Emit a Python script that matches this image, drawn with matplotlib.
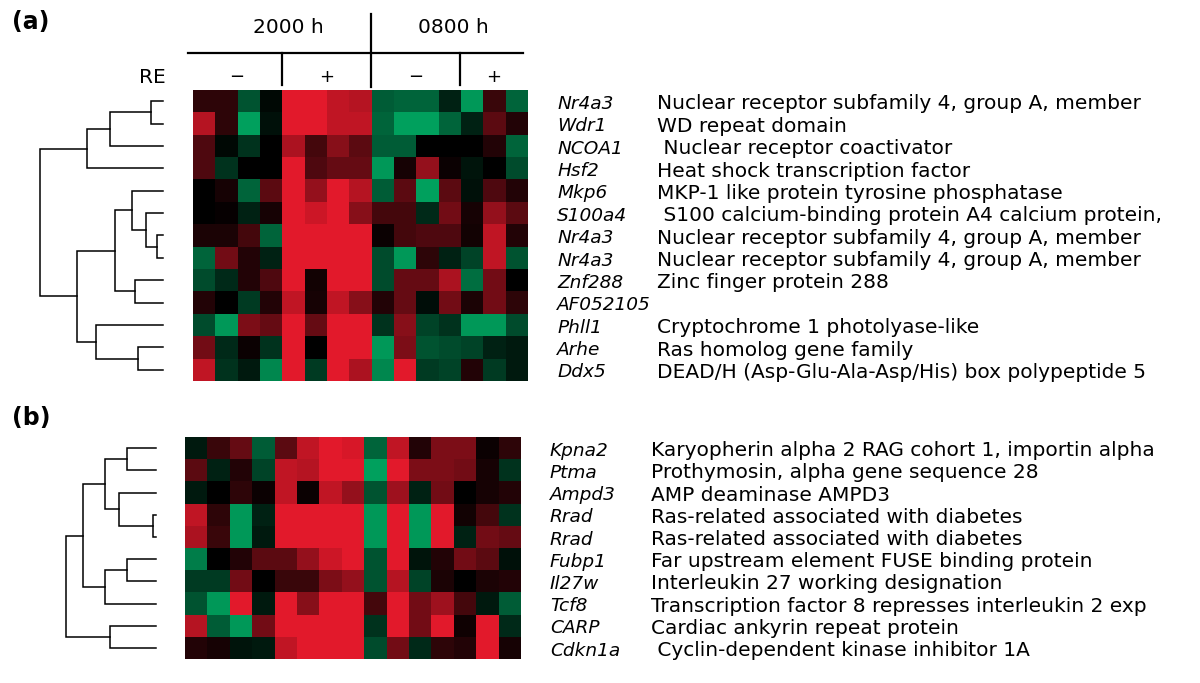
import numpy as np
import matplotlib
matplotlib.use("Agg")
import matplotlib.pyplot as plt
from matplotlib.colors import LinearSegmentedColormap
from matplotlib.transforms import blended_transform_factory

plt.rcParams["font.family"] = ["DejaVu Sans"]

# ---- data: panel (a) ----
genes_a = ["Nr4a3", "Wdr1", "NCOA1", "Hsf2", "Mkp6", "S100a4", "Nr4a3", "Nr4a3",
           "Znf288", "AF052105", "Phll1", "Arhe", "Ddx5"]
desc_a = [
    "Nuclear receptor subfamily 4, group A, member",
    "WD repeat domain",
    " Nuclear receptor coactivator",
    "Heat shock transcription factor",
    "MKP-1 like protein tyrosine phosphatase",
    " S100 calcium-binding protein A4 calcium protein,",
    "Nuclear receptor subfamily 4, group A, member",
    "Nuclear receptor subfamily 4, group A, member",
    "Zinc finger protein 288",
    "",
    "Cryptochrome 1 photolyase-like",
    "Ras homolog gene family",
    "DEAD/H (Asp-Glu-Ala-Asp/His) box polypeptide 5",
]
# log-ratio style values, green (-1) .. black (0) .. red (+1); 15 arrays
expr_a = np.array([
    [0.20, 0.20, -0.50, -0.05, 1.00, 1.00, 0.85, 0.80, -0.55, -0.60, -0.60, -0.20, -0.90, 0.25, -0.60],
    [0.80, 0.20, -0.95, -0.10, 1.00, 1.00, 0.85, 0.85, -0.60, -0.95, -0.95, -0.60, -0.20, 0.40, 0.15],
    [0.35, -0.05, -0.30, 0.00, 0.75, 0.30, 0.60, 0.40, -0.55, -0.55, 0.00, 0.00, 0.00, 0.15, -0.60],
    [0.35, -0.30, 0.00, 0.00, 1.00, 0.35, 0.45, 0.45, -0.90, 0.10, 0.65, 0.05, -0.12, 0.00, -0.45],
    [0.00, 0.10, -0.60, 0.40, 1.00, 0.65, 1.00, 0.80, -0.55, 0.40, -0.95, 0.40, -0.10, 0.35, 0.15],
    [0.00, 0.03, -0.20, 0.10, 1.00, 0.90, 1.00, 0.60, 0.30, 0.30, -0.25, 0.50, 0.10, 0.65, 0.40],
    [0.12, 0.12, 0.30, -0.60, 1.00, 1.00, 1.00, 1.00, 0.05, 0.30, 0.35, 0.35, 0.08, 0.85, 0.15],
    [-0.60, 0.50, 0.15, -0.20, 1.00, 1.00, 1.00, 1.00, -0.45, -0.90, 0.20, -0.20, -0.40, 0.85, -0.50],
    [-0.45, -0.25, 0.15, 0.35, 1.00, 0.08, 1.00, 1.00, -0.45, 0.45, 0.45, 0.75, -0.65, 0.50, 0.00],
    [0.15, 0.00, -0.35, 0.15, 0.85, 0.10, 0.85, 0.60, 0.15, 0.45, -0.08, 0.50, 0.12, 0.50, 0.20],
    [-0.45, -0.90, 0.55, 0.45, 1.00, 0.45, 1.00, 1.00, -0.30, 0.60, -0.40, -0.30, -0.90, -0.90, -0.45],
    [0.50, -0.25, 0.05, -0.30, 1.00, 0.00, 1.00, 1.00, -0.90, 0.55, -0.50, -0.45, -0.40, -0.20, -0.15],
    [0.85, -0.30, -0.15, -0.80, 1.00, -0.35, 1.00, 0.75, -0.80, 1.00, -0.35, -0.40, 0.15, -0.35, -0.15],
])
# dendrogram merges (left, right, height), scipy-style cluster ids
link_a = [(0, 1, 0.12), (13, 2, 0.53), (14, 3, 0.76), (6, 7, 0.06), (5, 16, 0.17),
          (4, 17, 0.31), (8, 9, 0.28), (18, 19, 0.48), (11, 12, 0.25), (10, 21, 0.67),
          (20, 22, 0.86), (15, 23, 1.23)]

# ---- data: panel (b) ----
genes_b = ["Kpna2", "Ptma", "Ampd3", "Rrad", "Rrad", "Fubp1", "Il27w", "Tcf8", "CARP", "Cdkn1a"]
desc_b = [
    "Karyopherin alpha 2 RAG cohort 1, importin alpha",
    "Prothymosin, alpha gene sequence 28",
    "AMP deaminase AMPD3",
    "Ras-related associated with diabetes",
    "Ras-related associated with diabetes",
    "Far upstream element FUSE binding protein",
    "Interleukin 27 working designation",
    "Transcription factor 8 represses interleukin 2 exp",
    "Cardiac ankyrin repeat protein",
    " Cyclin-dependent kinase inhibitor 1A",
]
expr_b = np.array([
    [-0.15, 0.25, 0.45, -0.55, 0.40, 0.85, 1.00, 0.95, -0.60, 0.85, 0.15, 0.55, 0.55, 0.05, 0.20],
    [0.40, -0.20, 0.15, -0.40, 0.85, 0.80, 1.00, 1.00, -0.95, 1.00, 0.55, 0.55, 0.50, 0.10, -0.30],
    [-0.15, 0.00, 0.20, 0.05, 0.85, 0.05, 0.85, 0.65, -0.50, 0.70, -0.20, 0.50, 0.00, 0.10, 0.15],
    [0.85, 0.20, -0.90, -0.20, 1.00, 1.00, 1.00, 1.00, -0.90, 1.00, -0.90, 1.00, 0.08, 0.30, -0.30],
    [0.75, 0.25, -0.90, -0.15, 1.00, 1.00, 1.00, 1.00, -0.90, 1.00, -0.90, 1.00, -0.20, 0.50, 0.45],
    [-0.75, 0.00, 0.15, 0.40, 0.40, 0.65, 0.90, 1.00, -0.50, 1.00, -0.12, 0.15, 0.50, 0.40, -0.10],
    [-0.35, -0.35, 0.50, 0.00, 0.25, 0.25, 0.55, 0.65, -0.50, 0.80, -0.40, 0.12, 0.00, 0.12, 0.15],
    [-0.50, -0.90, 1.00, -0.15, 1.00, 0.60, 1.00, 1.00, 0.30, 1.00, 0.50, 0.70, 0.30, -0.15, -0.55],
    [0.80, -0.55, -0.90, 0.50, 1.00, 1.00, 1.00, 1.00, -0.30, 1.00, 0.50, 1.00, 0.07, 1.00, -0.25],
    [0.15, 0.10, -0.12, -0.15, 0.85, 1.00, 1.00, 1.00, -0.45, 0.50, -0.25, 0.20, 0.15, 1.00, 0.10],
])
link_b = [(0, 1, 0.29), (3, 4, 0.03), (2, 11, 0.37), (10, 12, 0.51), (5, 6, 0.29),
          (14, 7, 0.51), (13, 15, 0.73), (8, 9, 0.46), (16, 17, 0.90)]

time_groups = ["2000 h", "0800 h"]
time_bounds = [0, 8, 15]        # column boundaries of the two time points
re_labels = ["\u2212", "+", "\u2212", "+"]
re_bounds = [0, 4, 8, 12, 15]   # column boundaries of RE -/+ groups

cmap = LinearSegmentedColormap.from_list("gbr", ["#00a862", "#000000", "#e2192b"])

W, H = 1200, 683
fig = plt.figure(figsize=(W / 100, H / 100), dpi=100)


def frac(x0, y0, x1, y1):
    return [x0 / W, 1 - y1 / H, (x1 - x0) / W, (y1 - y0) / H]


def draw_dendro(ax, link, n):
    ypos = {i: float(i) for i in range(n)}
    hgt = {i: 0.0 for i in range(n)}
    for k, (a, b, h) in enumerate(link):
        node = n + k
        ax.plot([hgt[a], h, h, hgt[b]], [ypos[a], ypos[a], ypos[b], ypos[b]],
                color="black", lw=1.1, solid_joinstyle="miter", clip_on=False)
        ypos[node] = (ypos[a] + ypos[b]) / 2
        hgt[node] = h
    ax.set_ylim(n - 0.5, -0.5)
    ax.set_xlim(link[-1][2], 0)
    ax.axis("off")


def draw_panel(data, link, genes, descs, hm_box, dd_box, gx, dx):
    ax = fig.add_axes(frac(*hm_box))
    ax.imshow(data, cmap=cmap, vmin=-1, vmax=1, aspect="auto", interpolation="nearest")
    ax.autoscale(False)
    ax.axis("off")
    axd = fig.add_axes(frac(*dd_box))
    draw_dendro(axd, link, len(genes))
    tr = blended_transform_factory(fig.transFigure, ax.transData)
    for i, (g, d) in enumerate(zip(genes, descs)):
        ax.text(gx / W, i + 0.12, g, transform=tr, fontsize=13.3, style="italic",
                va="center", ha="left")
        ax.text(dx / W, i + 0.12, d, transform=tr, fontsize=14.5, va="center", ha="left")
    return ax


ax_a = draw_panel(expr_a, link_a, genes_a, desc_a, (192.5, 90, 527, 381),
                  (40, 90, 163, 381), 557, 657)
draw_panel(expr_b, link_b, genes_b, desc_b, (185, 437, 521, 659),
           (66, 437, 156, 659), 550, 651)

# header above panel (a): time points and RE -/+ groups
line_y = -2.15
ax_a.plot([-0.7, 14.3], [line_y, line_y], color="black", lw=1.6, clip_on=False)
tb = time_bounds[1] - 0.5
ax_a.plot([tb, tb], [-3.9, -0.63], color="black", lw=1.6, clip_on=False)
for b in (re_bounds[1], re_bounds[3]):
    ax_a.plot([b - 0.5, b - 0.5], [line_y, -0.72], color="black", lw=1.6, clip_on=False)
for j, lab in enumerate(time_groups):
    xc = (time_bounds[j] + time_bounds[j + 1]) / 2 - 0.5
    ax_a.text(xc + 0.3 - 0.1 * j, -3.27, lab, fontsize=14.5, ha="center", va="center")
for j, lab in enumerate(re_labels):
    xc = (re_bounds[j] + re_bounds[j + 1]) / 2 - 0.5
    ax_a.text(xc, -1.08, lab, fontsize=13, ha="center", va="center")
ax_a.text(-1.7, -1.04, "RE", fontsize=14.5, ha="right", va="center")

fig.text(12 / W, 1 - 22 / H, "(a)", fontsize=17, fontweight="bold", va="center")
fig.text(12 / W, 1 - 418 / H, "(b)", fontsize=17, fontweight="bold", va="center")

fig.savefig("out.png", dpi=100, facecolor="white")
